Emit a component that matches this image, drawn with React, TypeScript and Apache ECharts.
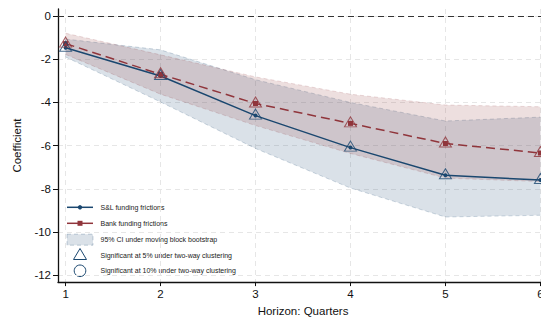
import React, { useEffect, useRef } from "react";
import * as echarts from "echarts";

const horizons = [1, 2, 3, 4, 5, 6];
const slCoef = [-1.47, -2.78, -4.61, -6.09, -7.37, -7.59];
const bankCoef = [-1.28, -2.7, -4.05, -4.97, -5.9, -6.34];
const slLower = [-1.9, -3.98, -6.13, -7.96, -9.3, -9.22];
const slUpper = [-1.07, -1.57, -2.95, -4.0, -4.86, -4.68];
const bankLower = [-1.78, -3.62, -5.07, -6.36, -7.5, -7.66];
const bankUpper = [-0.8, -1.8, -2.82, -3.62, -4.12, -4.2];
const yTicks = [-12, -10, -8, -6, -4, -2, 0];
const xTicks = [1, 2, 3, 4, 5, 6];
const legendLabels = [
  "S&L funding frictions",
  "Bank funding frictions",
  "95% CI under moving block bootstrap",
  "Significant at 5% under two-way clustering",
  "Significant at 10% under two-way clustering",
];

const NAVY = "#1a476f";
const MAROON = "#90353b";
const BLUE_FILL = "rgba(26,71,111,0.16)";
const RED_FILL = "rgba(144,53,59,0.16)";
const FONT = "'Liberation Sans', Arial, Helvetica, sans-serif";

export default function App() {
  const ref = useRef<HTMLDivElement>(null);
  useEffect(() => {
    if (!ref.current) return;
    const chart = echarts.init(ref.current, undefined, { renderer: "svg" });
    const pts = (ys: number[]) => horizons.map((x, i) => [x, ys[i]]);
    const bandSeries = (name: string, lower: number[], upper: number[], fill: string, edge: string) => ({
      name,
      type: "custom",
      silent: true,
      z: 1,
      data: horizons.map((x, i) => [x, lower[i], upper[i]]),
      encode: { x: 0, y: [1, 2] },
      renderItem: (params: any, api: any) => {
        if (params.dataIndex !== 0) return null;
        const up = horizons.map((x, i) => api.coord([x, upper[i]]));
        const lo = horizons.map((x, i) => api.coord([x, lower[i]]));
        const poly = up.concat(lo.slice().reverse());
        return {
          type: "group",
          children: [
            { type: "polygon", shape: { points: poly }, style: { fill, stroke: "none" } },
            { type: "polyline", shape: { points: up }, style: { fill: "none", stroke: edge, lineWidth: 0.8, lineDash: [4, 3] } },
            { type: "polyline", shape: { points: lo }, style: { fill: "none", stroke: edge, lineWidth: 0.8, lineDash: [4, 3] } },
          ],
        };
      },
    });
    const rowY = [207.3, 223.3, 239.7, 255.5, 270.8];
    const textX = 100.5;
    const graphics: any[] = [
      { type: "line", shape: { x1: 67, y1: rowY[0], x2: 93, y2: rowY[0] }, style: { stroke: NAVY, lineWidth: 1.5 } },
      { type: "circle", shape: { cx: 80, cy: rowY[0], r: 2.2 }, style: { fill: NAVY } },
      { type: "line", shape: { x1: 67, y1: rowY[1], x2: 93, y2: rowY[1] }, style: { stroke: MAROON, lineWidth: 1.5 } },
      { type: "rect", shape: { x: 77.5, y: rowY[1] - 2.5, width: 5, height: 5 }, style: { fill: MAROON } },
      {
        type: "rect",
        shape: { x: 67, y: rowY[2] - 5.5, width: 26, height: 11 },
        style: { fill: BLUE_FILL, stroke: "rgba(26,71,111,0.3)", lineWidth: 0.8, lineDash: [4, 3] },
      },
      {
        type: "polygon",
        shape: { points: [[80, rowY[3] - 7], [73.5, rowY[3] + 4], [86.5, rowY[3] + 4]] },
        style: { fill: "none", stroke: NAVY, lineWidth: 1 },
      },
      { type: "circle", shape: { cx: 80, cy: rowY[4], r: 5.8 }, style: { fill: "none", stroke: NAVY, lineWidth: 1 } },
    ];
    legendLabels.forEach((t, i) => {
      graphics.push({
        type: "text",
        x: textX,
        y: rowY[i],
        style: { text: t, fontSize: 7, fontFamily: FONT, fill: "#222", verticalAlign: "middle" },
      });
    });
    const gridDash = { color: "#e6e6e6", width: 1, type: [5, 4] };
    chart.setOption({
      animation: false,
      backgroundColor: "#fff",
      textStyle: { fontFamily: FONT },
      grid: { left: 58, right: 2, top: 9, bottom: 37, containLabel: false },
      xAxis: {
        type: "value",
        min: 0.92,
        max: 6.08,
        name: "Horizon: Quarters",
        nameLocation: "middle",
        nameGap: 21,
        nameTextStyle: { fontSize: 11.5, color: "#111", fontFamily: FONT },
        axisLine: { show: true, onZero: false, lineStyle: { color: "#111", width: 1.3 } },
        axisTick: { show: true, length: 4, customValues: xTicks, lineStyle: { color: "#111" } },
        axisLabel: { customValues: xTicks, fontSize: 11.5, color: "#111", margin: 6, fontFamily: FONT },
        splitLine: { show: true, lineStyle: gridDash },
      },
      yAxis: {
        type: "value",
        min: -12.31,
        max: 0.32,
        name: "Coefficient",
        nameLocation: "middle",
        nameGap: 35,
        nameTextStyle: { fontSize: 11.5, color: "#111", fontFamily: FONT },
        axisLine: { show: true, onZero: false, lineStyle: { color: "#111", width: 1.3 } },
        axisTick: { show: true, length: 5, customValues: yTicks, lineStyle: { color: "#111" } },
        axisLabel: { customValues: yTicks, fontSize: 11.5, color: "#111", margin: 7, fontFamily: FONT },
        splitLine: { show: true, lineStyle: gridDash },
      },
      graphic: graphics,
      series: [
        bandSeries("sl-ci", slLower, slUpper, BLUE_FILL, "rgba(26,71,111,0.25)"),
        bandSeries("bank-ci", bankLower, bankUpper, RED_FILL, "rgba(144,53,59,0.22)"),
        {
          name: "zero",
          type: "line",
          data: [],
          markLine: {
            silent: true,
            symbol: "none",
            label: { show: false },
            lineStyle: { color: "#333", width: 1, type: [6, 4] },
            data: [{ yAxis: 0 }],
          },
        },
        {
          name: "S&L funding frictions",
          type: "line",
          data: pts(slCoef),
          symbol: "circle",
          symbolSize: 4,
          itemStyle: { color: NAVY },
          lineStyle: { color: NAVY, width: 1.5 },
          z: 5,
        },
        {
          name: "Bank funding frictions",
          type: "line",
          data: pts(bankCoef),
          symbol: "rect",
          symbolSize: 5,
          itemStyle: { color: MAROON },
          lineStyle: { color: MAROON, width: 1.5, type: [9, 5] },
          z: 5,
        },
        {
          name: "sl-sig",
          type: "scatter",
          data: pts(slCoef),
          symbol: "triangle",
          symbolSize: [12, 10],
          symbolOffset: [0, -1.5],
          itemStyle: { color: "transparent", borderColor: NAVY, borderWidth: 1 },
          z: 6,
        },
        {
          name: "bank-sig",
          type: "scatter",
          data: pts(bankCoef),
          symbol: "triangle",
          symbolSize: [12, 10],
          symbolOffset: [0, -1.5],
          itemStyle: { color: "transparent", borderColor: MAROON, borderWidth: 1 },
          z: 6,
        },
      ],
    });
    return () => chart.dispose();
  }, []);
  return (
    <div style={{ position: "absolute", left: 0, top: 0, width: 541, height: 322, overflow: "hidden", background: "#fff" }}>
      <div ref={ref} style={{ width: 550, height: 322 }} />
    </div>
  );
}
